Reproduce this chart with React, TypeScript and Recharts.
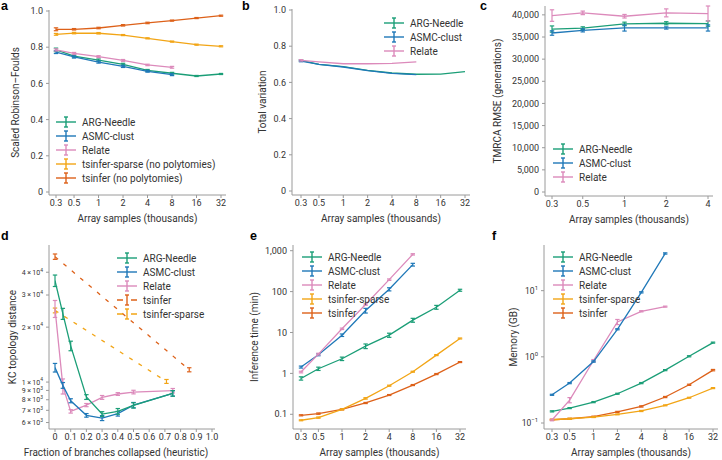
import React from "react";
import { LineChart, Line, XAxis, YAxis, ErrorBar, Legend } from "recharts";

const INK = "#333333";
const AXIS = "#9a9a9a";

const GREEN = "#1b9e77";
const BLUE = "#1f78b8";
const PINK = "#dc8abb";
const YELLOW = "#f2a516";
const ORANGE = "#dd6119";

// x positions
const samples = [0.3, 0.5, 1, 2, 4, 8, 16, 32];
const samplesC = [0.3, 0.5, 1, 2, 4];
const fractions = [0, 0.05, 0.1, 0.2, 0.3, 0.4, 0.5, 0.75];
const tsinferFractions = [0, 0.855];
const sparseFractions = [0, 0.71];

// a: scaled Robinson-Foulds
const rfArgNeedle = [0.785, 0.751, 0.729, 0.705, 0.672, 0.656, 0.641, 0.652];
const rfArgNeedleErr = [0.01, 0.006, 0.006, 0.006, 0.005, 0.005, 0.003, 0.003];
const rfAsmc = [0.773, 0.746, 0.718, 0.694, 0.667, 0.648];
const rfAsmcErr = [0.008, 0.006, 0.006, 0.006, 0.005, 0.005];
const rfRelate = [0.785, 0.766, 0.748, 0.727, 0.702, 0.689];
const rfRelateErr = [0.006, 0.005, 0.005, 0.005, 0.004, 0.005];
const rfSparse = [0.871, 0.878, 0.877, 0.867, 0.849, 0.831, 0.814, 0.805];
const rfSparseErr = [0.005, 0.004, 0.004, 0.003, 0.003, 0.003, 0.003, 0.003];
const rfTsinfer = [0.899, 0.899, 0.906, 0.921, 0.934, 0.947, 0.961, 0.974];
const rfTsinferErr = [0.008, 0.004, 0.004, 0.004, 0.004, 0.003, 0.003, 0.003];

// b: total variation
const tvArgNeedle = [0.722, 0.7, 0.687, 0.667, 0.652, 0.645, 0.646, 0.659];
const tvAsmc = [0.718, 0.7, 0.685, 0.665, 0.65, 0.643];
const tvRelate = [0.722, 0.713, 0.703, 0.703, 0.705, 0.713];
const tvFirstErr = [0.004];

// c: TMRCA RMSE
const tmrcaArgNeedle = [36800, 37000, 37950, 38100, 38030];
const tmrcaArgNeedleErr = [700, 300, 400, 350, 600];
const tmrcaAsmc = [35900, 36500, 37040, 37040, 37040];
const tmrcaAsmcErr = [500, 350, 700, 250, 700];
const tmrcaRelate = [39840, 40450, 39690, 40450, 40300];
const tmrcaRelateErr = [1300, 400, 400, 900, 1700];

// d: KC topology distance
const kcArgNeedle = [36000, 23700, 15800, 8280, 6680, 6910, 7450, 8670];
const kcArgNeedleErr = [2600, 1650, 950, 250, 200, 250, 250, 300];
const kcAsmc = [12000, 9590, 7900, 6570, 6350, 6710, 7480, 8670];
const kcAsmcErr = [650, 350, 200, 150, 200, 200, 250, 300];
const kcRelate = [25300, 9500, 6910, 7480, 8240, 8600, 8815, 8970];
const kcRelateErr = [2700, 900, 150, 150, 200, 150, 200, 250];
const kcTsinfer = [48700, 11680];
const kcTsinferErr = [1650, 300];
const kcSparse = [24700, 10080];
const kcSparseErr = [750, 250];

// e: inference time (min)
const timeArgNeedle = [0.755, 1.3, 2.28, 4.64, 8.61, 20.0, 41.5, 108];
const timeArgNeedleErr = [0.07, 0.12, 0.22, 0.6, 1.0, 2.2, 4.5, 6];
const timeAsmc = [1.43, 2.85, 8.6, 34.4, 114, 456];
const timeAsmcErr = [0.08, 0.15, 0.6, 4.5, 10, 35];
const timeRelate = [1.08, 2.96, 12.3, 48.2, 196, 814];
const timeRelateErr = [0.05, 0.15, 0.5, 2, 8, 30];
const timeSparse = [0.0714, 0.083, 0.132, 0.245, 0.5, 1.1, 2.8, 7.14];
const timeSparseErr = [0.002, 0.003, 0.004, 0.01, 0.015, 0.03, 0.08, 0.2];
const timeTsinfer = [0.0945, 0.104, 0.132, 0.189, 0.296, 0.519, 0.963, 1.89];
const timeTsinferErr = [0.003, 0.004, 0.004, 0.006, 0.008, 0.015, 0.03, 0.05];

// f: memory (GB)
const memArgNeedle = [0.15, 0.168, 0.207, 0.277, 0.401, 0.63, 1.02, 1.64];
const memArgNeedleErr = [0.003, 0.003, 0.004, 0.005, 0.008, 0.012, 0.02, 0.03];
const memAsmc = [0.267, 0.401, 0.85, 2.61, 9.44, 36.5];
const memAsmcErr = [0.005, 0.008, 0.02, 0.05, 0.2, 0.8];
const memRelate = [0.111, 0.222, 0.88, 3.37, 4.88, 5.74];
const memRelateErr = [0.003, 0.02, 0.03, 0.3, 0.1, 0.1];
const memSparse = [0.112, 0.116, 0.123, 0.135, 0.152, 0.185, 0.241, 0.337];
const memSparseErr = [0.002, 0.002, 0.002, 0.002, 0.003, 0.003, 0.004, 0.006];
const memTsinfer = [0.112, 0.116, 0.125, 0.147, 0.178, 0.247, 0.378, 0.63];
const memTsinferErr = [0.002, 0.002, 0.002, 0.003, 0.004, 0.005, 0.008, 0.015];

// tick lists
const unitTicks = [0, 0.2, 0.4, 0.6, 0.8, 1.0];
const tmrcaTicks = [0, 5000, 10000, 15000, 20000, 25000, 30000, 35000, 40000];
const fractionTicks = [0, 0.1, 0.2, 0.3, 0.4, 0.5, 0.6, 0.7, 0.8, 0.9, 1.0];
const kcTicks = [6000, 7000, 8000, 9000, 10000, 20000, 30000, 40000];
const timeTicks = [0.1, 1, 10, 100, 1000];
const memTicks = [0.1, 1, 10];

type Series = { key: string; name: string; color: string; dashed?: boolean };

const ARG = { key: "arg", name: "ARG-Needle", color: GREEN };
const ASMC = { key: "asmc", name: "ASMC-clust", color: BLUE };
const RELATE = { key: "relate", name: "Relate", color: PINK };
const SPARSE = { key: "sparse", name: "tsinfer-sparse", color: YELLOW };
const TSINFER = { key: "tsinfer", name: "tsinfer", color: ORANGE };

function rowsFrom(xs: number[], cols: Record<string, (number | undefined)[]>) {
  return xs.map((x, i) => {
    const row: any = { x };
    for (const k in cols) row[k] = cols[k][i];
    return row;
  });
}

function mergeRows(parts: { xs: number[]; cols: Record<string, number[]> }[]) {
  const byX = new Map<number, any>();
  parts.forEach((p) =>
    p.xs.forEach((x, i) => {
      const row = byX.get(x) ?? { x };
      for (const k in p.cols) row[k] = p.cols[k][i];
      byX.set(x, row);
    })
  );
  return [...byX.values()].sort((a, b) => a.x - b.x);
}

const rowsA = rowsFrom(samples, {
  arg: rfArgNeedle, argErr: rfArgNeedleErr,
  asmc: rfAsmc, asmcErr: rfAsmcErr,
  relate: rfRelate, relateErr: rfRelateErr,
  sparse: rfSparse, sparseErr: rfSparseErr,
  tsinfer: rfTsinfer, tsinferErr: rfTsinferErr,
});
const rowsB = rowsFrom(samples, {
  arg: tvArgNeedle, argErr: tvFirstErr,
  asmc: tvAsmc, asmcErr: tvFirstErr,
  relate: tvRelate, relateErr: tvFirstErr,
});
const rowsC = rowsFrom(samplesC, {
  arg: tmrcaArgNeedle, argErr: tmrcaArgNeedleErr,
  asmc: tmrcaAsmc, asmcErr: tmrcaAsmcErr,
  relate: tmrcaRelate, relateErr: tmrcaRelateErr,
});
const rowsD = mergeRows([
  {
    xs: fractions,
    cols: {
      arg: kcArgNeedle, argErr: kcArgNeedleErr,
      asmc: kcAsmc, asmcErr: kcAsmcErr,
      relate: kcRelate, relateErr: kcRelateErr,
    },
  },
  { xs: tsinferFractions, cols: { tsinfer: kcTsinfer, tsinferErr: kcTsinferErr } },
  { xs: sparseFractions, cols: { sparse: kcSparse, sparseErr: kcSparseErr } },
]);
const rowsE = rowsFrom(samples, {
  arg: timeArgNeedle, argErr: timeArgNeedleErr,
  asmc: timeAsmc, asmcErr: timeAsmcErr,
  relate: timeRelate, relateErr: timeRelateErr,
  sparse: timeSparse, sparseErr: timeSparseErr,
  tsinfer: timeTsinfer, tsinferErr: timeTsinferErr,
});
const rowsF = rowsFrom(samples, {
  arg: memArgNeedle, argErr: memArgNeedleErr,
  asmc: memAsmc, asmcErr: memAsmcErr,
  relate: memRelate, relateErr: memRelateErr,
  sparse: memSparse, sparseErr: memSparseErr,
  tsinfer: memTsinfer, tsinferErr: memTsinferErr,
});

const oneDecimal = (v: number) => (v === 0 ? "0" : v.toFixed(1));
const thousands = (v: number) => v.toLocaleString("en-US");

function LegendBox({ items }: { items: Series[] }) {
  return (
    <svg width={180} height={items.length * 14 + 2} style={{ display: "block", overflow: "visible" }}>
      {items.map((s, i) => {
        const cy = 7 + i * 14;
        return (
          <g key={s.key} stroke={s.color} strokeWidth={1.4}>
            <line x1={0} x2={20} y1={cy} y2={cy} strokeDasharray={s.dashed ? "6 8" : undefined} />
            <line x1={10} x2={10} y1={cy - 5} y2={cy + 5} />
            <line x1={8} x2={12} y1={cy - 5} y2={cy - 5} />
            <line x1={8} x2={12} y1={cy + 5} y2={cy + 5} />
            <text x={26} y={cy} dy="0.35em" fontSize={10} fill={INK} stroke="none">
              {s.name}
            </text>
          </g>
        );
      })}
    </svg>
  );
}

const xTitle = (text: string, dx: number) => (props: any) => {
  const vb = props.viewBox;
  return (
    <text x={vb.x + vb.width / 2 + dx} y={vb.y + 23} textAnchor="middle" dominantBaseline="central" fontSize={10} fill={INK}>
      {text}
    </text>
  );
};

const yTitle = (text: string, x: number) => (props: any) => {
  const vb = props.viewBox;
  const cy = vb.y + vb.height / 2;
  return (
    <text x={x} y={cy} transform={`rotate(-90 ${x} ${cy})`} textAnchor="middle" dominantBaseline="central" fontSize={10} fill={INK}>
      {text}
    </text>
  );
};

const powerTick = (split: (v: number) => [string, string], size: number) => (props: any) => {
  const [base, exp] = split(props.payload.value);
  return (
    <text x={props.x} y={props.y} dy="0.35em" textAnchor="end" fontSize={size} fill={INK}>
      {base}
      <tspan dy={-size * 0.45} fontSize={size * 0.7}>
        {exp}
      </tspan>
    </text>
  );
};

const kcTick = powerTick((v) => {
  const e = Math.floor(Math.log10(v) + 1e-9);
  return [`${Math.round(v / 10 ** e)}\u2009×\u200910`, String(e)];
}, 7);
const memTick = powerTick((v) => {
  const e = Math.round(Math.log10(v));
  return ["10", e < 0 ? `−${-e}` : String(e)];
}, 8.5);

type PanelProps = {
  letter: string;
  letterX: number;
  left: number;
  top: number;
  width: number;
  rows: any[];
  series: Series[];
  legend: Series[];
  legendLeft: number;
  legendTop: number;
  yWidth: number;
  marginTop: number;
  marginRight: number;
  xHeight: number;
  xScale: "log" | "linear";
  xDomain: [number, number];
  xTicks: number[];
  xPad: [number, number];
  xFormat: (v: number) => string;
  xTitle: string;
  xTitleDx?: number;
  yScale: "log" | "linear";
  yDomain: [number, number];
  yTicks: number[];
  yPad: [number, number];
  yFormat?: (v: number) => string;
  yTick?: any;
  yTitle: string;
  yTitleX: number;
};

function Panel(p: PanelProps) {
  return (
    <div style={{ position: "absolute", left: p.left, top: p.top }}>
      <LineChart
        width={p.width}
        height={230}
        data={p.rows}
        margin={{ top: p.marginTop, right: p.marginRight, bottom: 0, left: 0 }}
      >
        <XAxis
          dataKey="x"
          type="number"
          scale={p.xScale}
          domain={p.xDomain}
          ticks={p.xTicks}
          allowDataOverflow
          interval={0}
          padding={{ left: p.xPad[0], right: p.xPad[1] }}
          height={p.xHeight}
          tickFormatter={p.xFormat}
          tick={{ fontSize: 9, fill: INK }}
          tickSize={3}
          tickMargin={2}
          stroke={AXIS}
          label={{ content: xTitle(p.xTitle, p.xTitleDx ?? 0) }}
        />
        <YAxis
          type="number"
          scale={p.yScale}
          domain={p.yDomain}
          ticks={p.yTicks}
          allowDataOverflow
          interval={0}
          padding={{ top: p.yPad[0], bottom: p.yPad[1] }}
          width={p.yWidth}
          tickFormatter={p.yFormat}
          tick={p.yTick ?? { fontSize: 9, fill: INK }}
          tickSize={3}
          tickMargin={3}
          stroke={AXIS}
          label={{ content: yTitle(p.yTitle, p.yTitleX) }}
        />
        {p.series.map((s) => (
          <Line
            key={s.key}
            type="linear"
            dataKey={s.key}
            name={s.name}
            stroke={s.color}
            strokeWidth={1.3}
            strokeDasharray={s.dashed ? "4 7" : undefined}
            dot={false}
            activeDot={false}
            connectNulls
            isAnimationActive={false}
          >
            <ErrorBar
              dataKey={s.key + "Err"}
              direction="y"
              width={2.2}
              strokeWidth={1.2}
              stroke={s.color}
              isAnimationActive={false}
            />
          </Line>
        ))}
        <Legend
          layout="vertical"
          align="center"
          verticalAlign="middle"
          wrapperStyle={{ left: p.legendLeft, top: p.legendTop, width: 180 }}
          content={() => <LegendBox items={p.legend} />}
        />
      </LineChart>
      <div
        style={{
          position: "absolute",
          left: p.letterX,
          top: 0,
          fontFamily: "'Liberation Sans', Arial, sans-serif",
          fontWeight: 700,
          fontSize: 12.5,
          lineHeight: "12px",
          color: "#000",
        }}
      >
        {p.letter}
      </div>
    </div>
  );
}

export default function App() {
  const common = { xScale: "log" as const, xTicks: samples, xFormat: String, xTitle: "Array samples (thousands)" };
  return (
    <div style={{ position: "relative", width: 722, height: 460, background: "#fff", fontFamily: "Roboto, sans-serif" }}>
      <style>{"body{margin:0}"}</style>
      <Panel
        {...common}
        letter="a" letterX={1} left={0} top={0} width={240}
        rows={rowsA}
        series={[TSINFER, SPARSE, ARG, ASMC, RELATE]}
        legend={[
          ARG, ASMC, RELATE,
          { ...SPARSE, name: "tsinfer-sparse (no polytomies)" },
          { ...TSINFER, name: "tsinfer (no polytomies)" },
        ]}
        legendLeft={56} legendTop={115}
        yWidth={49} marginTop={10} marginRight={14} xHeight={35}
        xDomain={[0.3, 32]} xPad={[7, 5]}
        yScale="linear" yDomain={[0, 1]} yTicks={unitTicks} yPad={[1, 3]} yFormat={oneDecimal}
        yTitle="Scaled Robinson–Foulds" yTitleX={15}
      />
      <Panel
        {...common}
        letter="b" letterX={2} left={240} top={0} width={240}
        rows={rowsB}
        series={[ARG, ASMC, RELATE]}
        legend={[ARG, ASMC, RELATE]}
        legendLeft={144} legendTop={16}
        yWidth={52} marginTop={9} marginRight={10} xHeight={35}
        xDomain={[0.3, 32]} xPad={[9, 5]}
        yScale="linear" yDomain={[0, 1]} yTicks={unitTicks} yPad={[1, 4]} yFormat={oneDecimal}
        yTitle="Total variation" yTitleX={22}
      />
      <Panel
        {...common}
        letter="c" letterX={0} left={480} top={0} width={242}
        rows={rowsC}
        series={[ARG, ASMC, RELATE]}
        legend={[ARG, ASMC, RELATE]}
        legendLeft={73} legendTop={142}
        yWidth={65} marginTop={6} marginRight={9} xHeight={34}
        xTicks={samplesC}
        xDomain={[0.3, 4]} xPad={[7, 5]}
        yScale="linear" yDomain={[0, 42000]} yTicks={tmrcaTicks} yPad={[0, 4]} yFormat={thousands}
        yTitle="TMRCA RMSE (generations)" yTitleX={17}
      />
      <Panel
        letter="d" letterX={1} left={0} top={230} width={240}
        rows={rowsD}
        series={[
          { ...TSINFER, dashed: true },
          { ...SPARSE, dashed: true },
          RELATE, ASMC, ARG,
        ]}
        legend={[ARG, ASMC, RELATE, { ...TSINFER, dashed: true }, { ...SPARSE, dashed: true }]}
        legendLeft={117} legendTop={21}
        yWidth={49} marginTop={15} marginRight={25} xHeight={31}
        xScale="linear" xDomain={[0, 1]} xTicks={fractionTicks} xPad={[6, 3]} xFormat={oneDecimal}
        xTitle="Fraction of branches collapsed (heuristic)" xTitleDx={-16}
        yScale="log" yDomain={[5530, 56400]} yTicks={kcTicks} yPad={[0, 0]} yTick={kcTick}
        yTitle="KC topology distance" yTitleX={12}
      />
      <Panel
        {...common}
        letter="e" letterX={10} left={240} top={230} width={240}
        rows={rowsE}
        series={[TSINFER, SPARSE, ARG, ASMC, RELATE]}
        legend={[ARG, ASMC, RELATE, SPARSE, TSINFER]}
        legendLeft={62} legendTop={20}
        yWidth={53} marginTop={15} marginRight={14} xHeight={31}
        xDomain={[0.3, 32]} xPad={[8, 6]}
        yScale="log" yDomain={[0.0437, 1378]} yTicks={timeTicks} yPad={[0, 0]} yFormat={thousands}
        yTitle="Inference time (min)" yTitleX={14}
      />
      <Panel
        {...common}
        letter="f" letterX={12} left={480} top={230} width={242}
        rows={rowsF}
        series={[TSINFER, SPARSE, ARG, RELATE, ASMC]}
        legend={[ARG, ASMC, RELATE, SPARSE, TSINFER]}
        legendLeft={73} legendTop={20}
        yWidth={64} marginTop={15} marginRight={4} xHeight={31}
        xDomain={[0.3, 32]} xPad={[8, 5]}
        yScale="log" yDomain={[0.0812, 49]} yTicks={memTicks} yPad={[0, 0]} yTick={memTick}
        yTitle="Memory (GB)" yTitleX={33}
      />
    </div>
  );
}
